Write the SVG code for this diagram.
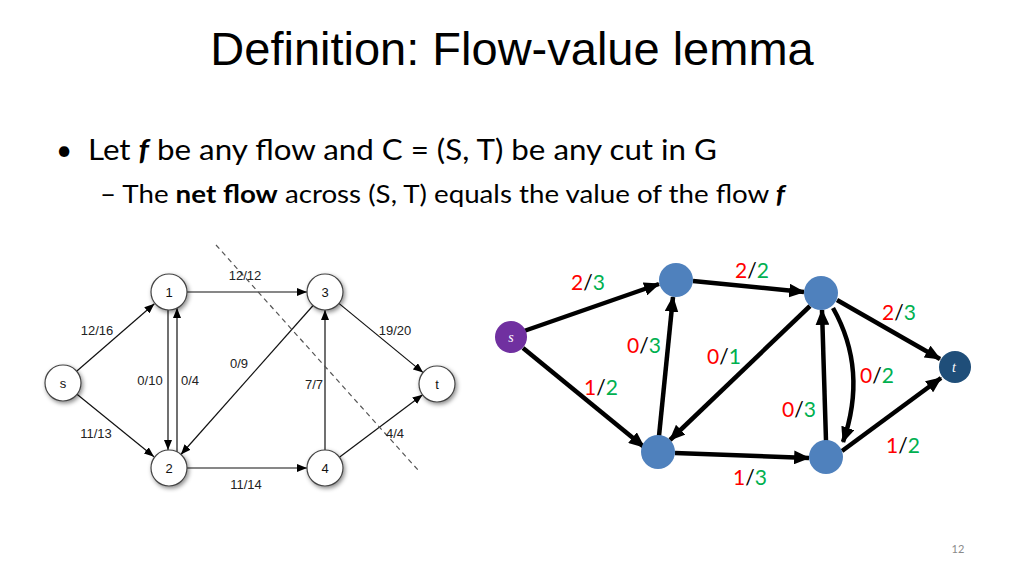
<svg xmlns="http://www.w3.org/2000/svg" width="1024" height="576" viewBox="0 0 1024 576">
<defs>
<style>
.title{font-family:"Liberation Sans",Arial,sans-serif;font-size:47px;fill:#000}
.body{font-family:Lato,"Open Sans",sans-serif;fill:#000}
.ln{font-family:"Liberation Sans",Arial,sans-serif;font-size:13px;fill:#222;text-anchor:middle}
.lnode{font-family:"Liberation Sans",Arial,sans-serif;font-size:13px;fill:#111;text-anchor:middle}
.le{stroke:#111;stroke-width:1.2;fill:none;marker-end:url(#ah1)}
.re{stroke:#000;stroke-width:4.5;fill:none;marker-end:url(#ah2)}
.rl{font-family:Lato,"Open Sans",sans-serif;font-size:21px;text-anchor:middle}
.r{fill:#FF0000}.g{fill:#00B050}.k{fill:#000}
.wn{fill:#fff;stroke:#444;stroke-width:1.2;filter:url(#sh)}
.bn{fill:#4F81BD}
</style>
<marker id="ah1" viewBox="0 0 10 8" refX="10" refY="4" markerWidth="10" markerHeight="8" markerUnits="userSpaceOnUse" orient="auto"><path d="M0,0L10,4L0,8z" fill="#000"/></marker>
<marker id="ah2" viewBox="0 0 14 12" refX="13" refY="6" markerWidth="16" markerHeight="14" markerUnits="userSpaceOnUse" orient="auto"><path d="M0,0L14,6L0,12z" fill="#000"/></marker>
<filter id="sh" x="-50%" y="-50%" width="200%" height="200%"><feDropShadow dx="1.5" dy="2" stdDeviation="2" flood-color="#000" flood-opacity="0.45"/></filter>
</defs>
<rect width="1024" height="576" fill="#fff"/>
<text class="title" x="512" y="65" text-anchor="middle">Definition: Flow-value lemma</text>
<text class="body" x="56" y="160" font-size="28">•</text>
<text class="body" x="88" y="160" font-size="29" textLength="629" lengthAdjust="spacingAndGlyphs">Let <tspan font-weight="bold" font-style="italic">f</tspan> be any flow and C = (S, T) be any cut in G</text>
<text class="body" x="100" y="203" font-size="24.5" textLength="685" lengthAdjust="spacingAndGlyphs">– The <tspan font-weight="bold">net flow</tspan> across (S, T) equals the value of the flow <tspan font-weight="bold" font-style="italic">f</tspan></text>
<text x="958" y="553" font-family="Lato,'Open Sans',sans-serif" font-size="11" fill="#8a8a8a" text-anchor="middle">12</text>

<!-- left graph connectors -->
<g id="left-edges">
<line class="le" x1="76.6" y1="371.2" x2="154.4" y2="303.8"/>
<line class="le" x1="77" y1="394.3" x2="154" y2="456.7"/>
<line class="le" x1="168" y1="310" x2="168" y2="450"/>
<line class="le" x1="177" y1="452" x2="177" y2="308"/>
<line class="le" x1="187" y1="292" x2="307" y2="292"/>
<line class="le" x1="313.1" y1="305.5" x2="180.9" y2="454.5"/>
<line class="le" x1="187" y1="468" x2="307" y2="468"/>
<line class="le" x1="325" y1="450" x2="325" y2="310"/>
<line class="le" x1="338.9" y1="303.4" x2="423.1" y2="372.6"/>
<line class="le" x1="339.4" y1="457.2" x2="422.6" y2="394.8"/>
<line x1="216" y1="245" x2="418" y2="470" stroke="#555" stroke-width="1.2" stroke-dasharray="5,4"/>
<text class="ln" x="97" y="335">12/16</text>
<text class="ln" x="96" y="438">11/13</text>
<text class="ln" x="150" y="385">0/10</text>
<text class="ln" x="190" y="385">0/4</text>
<text class="ln" x="239" y="368">0/9</text>
<text class="ln" x="245" y="280">12/12</text>
<text class="ln" x="246" y="489">11/14</text>
<text class="ln" x="314" y="389">7/7</text>
<text class="ln" x="395" y="335">19/20</text>
<text class="ln" x="395" y="438">4/4</text>
</g>
<g id="L-s"><circle class="wn" cx="63" cy="383" r="18"/><text class="lnode" x="63" y="388">s</text></g>
<g id="L-1"><circle class="wn" cx="169" cy="292" r="18"/><text class="lnode" x="169" y="297">1</text></g>
<g id="L-2"><circle class="wn" cx="169" cy="468" r="18"/><text class="lnode" x="169" y="473">2</text></g>
<g id="L-3"><circle class="wn" cx="325" cy="292" r="18"/><text class="lnode" x="325" y="297">3</text></g>
<g id="L-4"><circle class="wn" cx="325" cy="468" r="18"/><text class="lnode" x="325" y="473">4</text></g>
<g id="L-t"><circle class="wn" cx="437" cy="384" r="18"/><text class="lnode" x="437" y="389">t</text></g>

<!-- right graph connectors -->
<g id="right-edges">
<line class="re" x1="524" y1="331" x2="659" y2="284"/>
<line class="re" x1="523" y1="348" x2="644" y2="447"/>
<line class="re" x1="659" y1="436" x2="673" y2="297"/>
<line class="re" x1="810" y1="306" x2="670" y2="440"/>
<line class="re" x1="693" y1="281" x2="804" y2="292"/>
<line class="re" x1="675" y1="453" x2="809" y2="458"/>
<line class="re" x1="826" y1="441" x2="822" y2="310"/>
<path class="re" d="M833,308 Q868,370 843,442"/>
<line class="re" x1="837" y1="300" x2="940" y2="359"/>
<line class="re" x1="842" y1="451" x2="941" y2="378"/>
<text class="rl" x="588" y="290"><tspan class="r">2</tspan><tspan class="k">/</tspan><tspan class="g">3</tspan></text>
<text class="rl" x="644" y="353"><tspan class="r">0</tspan><tspan class="k">/</tspan><tspan class="g">3</tspan></text>
<text class="rl" x="601" y="395"><tspan class="r">1</tspan><tspan class="k">/</tspan><tspan class="g">2</tspan></text>
<text class="rl" x="724" y="364"><tspan class="r">0</tspan><tspan class="k">/</tspan><tspan class="g">1</tspan></text>
<text class="rl" x="752" y="278"><tspan class="r">2</tspan><tspan class="k">/</tspan><tspan class="g">2</tspan></text>
<text class="rl" x="899" y="320"><tspan class="r">2</tspan><tspan class="k">/</tspan><tspan class="g">3</tspan></text>
<text class="rl" x="877" y="383"><tspan class="r">0</tspan><tspan class="k">/</tspan><tspan class="g">2</tspan></text>
<text class="rl" x="799" y="417"><tspan class="r">0</tspan><tspan class="k">/</tspan><tspan class="g">3</tspan></text>
<text class="rl" x="903" y="453"><tspan class="r">1</tspan><tspan class="k">/</tspan><tspan class="g">2</tspan></text>
<text class="rl" x="750" y="485"><tspan class="r">1</tspan><tspan class="k">/</tspan><tspan class="g">3</tspan></text>
</g>
<g id="R-s"><circle cx="511" cy="337" r="16" fill="#7030A0"/><text x="511" y="342" font-family="'Liberation Serif',serif" font-style="italic" font-size="14" fill="#fff" text-anchor="middle">s</text></g>
<g id="R-a"><circle class="bn" cx="676" cy="280" r="17"/></g>
<g id="R-b"><circle class="bn" cx="658" cy="452" r="17"/></g>
<g id="R-c"><circle class="bn" cx="821" cy="293" r="17"/></g>
<g id="R-d"><circle class="bn" cx="826" cy="457" r="17"/></g>
<g id="R-t"><circle cx="955" cy="367" r="16" fill="#1F4E79"/><text x="954" y="372" font-family="'Liberation Serif',serif" font-style="italic" font-size="14" fill="#fff" text-anchor="middle">t</text></g>
</svg>
